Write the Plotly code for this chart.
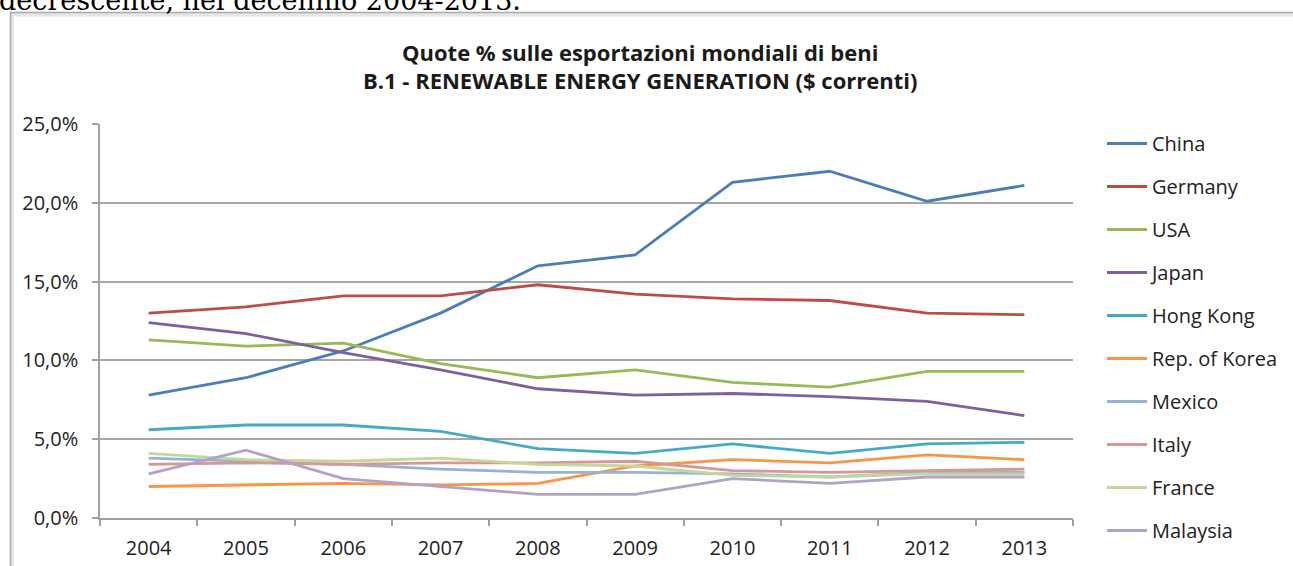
import plotly.graph_objects as go

years = ["2004", "2005", "2006", "2007", "2008", "2009", "2010", "2011", "2012", "2013"]

china     = [7.8, 8.9, 10.6, 13.0, 16.0, 16.7, 21.3, 22.0, 20.1, 21.1]
germany   = [13.0, 13.4, 14.1, 14.1, 14.8, 14.2, 13.9, 13.8, 13.0, 12.9]
usa       = [11.3, 10.9, 11.1, 9.8, 8.9, 9.4, 8.6, 8.3, 9.3, 9.3]
japan     = [12.4, 11.7, 10.5, 9.4, 8.2, 7.8, 7.9, 7.7, 7.4, 6.5]
hongkong  = [5.6, 5.9, 5.9, 5.5, 4.4, 4.1, 4.7, 4.1, 4.7, 4.8]
korea     = [2.0, 2.1, 2.2, 2.1, 2.2, 3.3, 3.7, 3.5, 4.0, 3.7]
mexico    = [3.8, 3.6, 3.4, 3.1, 2.9, 2.9, 2.8, 2.6, 2.9, 2.9]
italy     = [3.4, 3.5, 3.4, 3.5, 3.5, 3.6, 3.0, 2.9, 3.0, 3.1]
france    = [4.1, 3.7, 3.6, 3.8, 3.4, 3.3, 2.7, 2.6, 2.8, 2.8]
malaysia  = [2.8, 4.3, 2.5, 2.0, 1.5, 1.5, 2.5, 2.2, 2.6, 2.6]

names = ["China", "Germany", "USA", "Japan", "Hong Kong", "Rep. of Korea",
         "Mexico", "Italy", "France", "Malaysia"]
series = [china, germany, usa, japan, hongkong, korea, mexico, italy, france, malaysia]
colors = ["#4a7ebb", "#be4b48", "#98b954", "#7d60a0", "#46aac5", "#f79646",
          "#95b3d7", "#d99694", "#c3d69b", "#b3a2c7"]

title_lines = ["Quote % sulle esportazioni mondiali di beni",
               "B.1 - RENEWABLE ENERGY GENERATION ($ correnti)"]
header_text = "decrescente, nel decennio 2004-2013."

W, H = 1293, 566
ML, MR, MT, MB = 100, 220, 124, 48
PW, PH = W - ML - MR, H - MT - MB


def px(x):
    return (x - ML) / PW


def py(y):
    return 1 - (y - MT) / PH


FONT = "Open Sans"
TXT = "#222222"

fig = go.Figure()
for name, vals, col in zip(names, series, colors):
    fig.add_trace(go.Scatter(
        x=years, y=vals, name=name, mode="lines",
        line=dict(color=col, width=2.8), legendgroup=name,
    ))

shapes = []
# shadow + frame of the chart box
shapes.append(dict(type="rect", xref="paper", yref="paper",
                   x0=px(12), x1=px(1300), y0=py(575), y1=py(14.5),
                   line=dict(color="#e6e6e6", width=4), fillcolor="rgba(0,0,0,0)", layer="below"))
shapes.append(dict(type="rect", xref="paper", yref="paper",
                   x0=px(10.5), x1=px(1300), y0=py(575), y1=py(12.5),
                   line=dict(color="#ababab", width=1.6), fillcolor="rgba(0,0,0,0)", layer="below"))

annotations = [
    dict(text="<b>" + title_lines[0] + "</b>",
         xref="paper", yref="paper", x=px(640), y=py(52), xanchor="center", yanchor="middle",
         showarrow=False, font=dict(family=FONT, size=22, color="#1a1a1a")),
    dict(text="<b>" + title_lines[1] + "</b>",
         xref="paper", yref="paper", x=px(640), y=py(80), xanchor="center", yanchor="middle",
         showarrow=False, font=dict(family=FONT, size=22, color="#1a1a1a")),
    dict(text=header_text, xref="paper", yref="paper", x=px(-3), y=py(18),
         xanchor="left", yanchor="bottom", showarrow=False,
         font=dict(family="DejaVu Serif", size=27, color="#000000")),
]

fig.update_layout(
    width=W, height=H,
    margin=dict(l=ML, r=MR, t=MT, b=MB, pad=0, autoexpand=False),
    paper_bgcolor="white", plot_bgcolor="white",
    separators=",.",
    font=dict(family=FONT, size=20, color=TXT),
    showlegend=True,
    legend=dict(x=px(1102), y=py(124), xanchor="left", yanchor="top",
                font=dict(family=FONT, size=20, color=TXT),
                tracegroupgap=14, itemwidth=40, maxheight=470,
                bgcolor="rgba(0,0,0,0)"),
    shapes=shapes,
    annotations=annotations,
    xaxis=dict(type="category", range=[-0.5, 9.5], tickson="boundaries",
               ticks="outside", ticklen=6, tickcolor="#a0a0a0", tickwidth=1.5,
               ticklabelstandoff=11, automargin=False,
               showline=True, linecolor="#a0a0a0", linewidth=1.5,
               showgrid=False, tickfont=dict(family=FONT, size=20, color=TXT)),
    yaxis=dict(range=[0, 25], dtick=5, tickformat=".1f", ticksuffix="%",
               ticks="outside", ticklen=6, tickcolor="#a0a0a0", tickwidth=1.5,
               ticklabelstandoff=10, automargin=False,
               showline=True, linecolor="#a0a0a0", linewidth=1.5,
               showgrid=True, gridcolor="#a6a6a6", gridwidth=1.5, zeroline=False,
               tickfont=dict(family=FONT, size=20, color=TXT)),
)

fig.write_html("out.html", config={"displayModeBar": False},
               post_script="document.body.style.margin='0';")
